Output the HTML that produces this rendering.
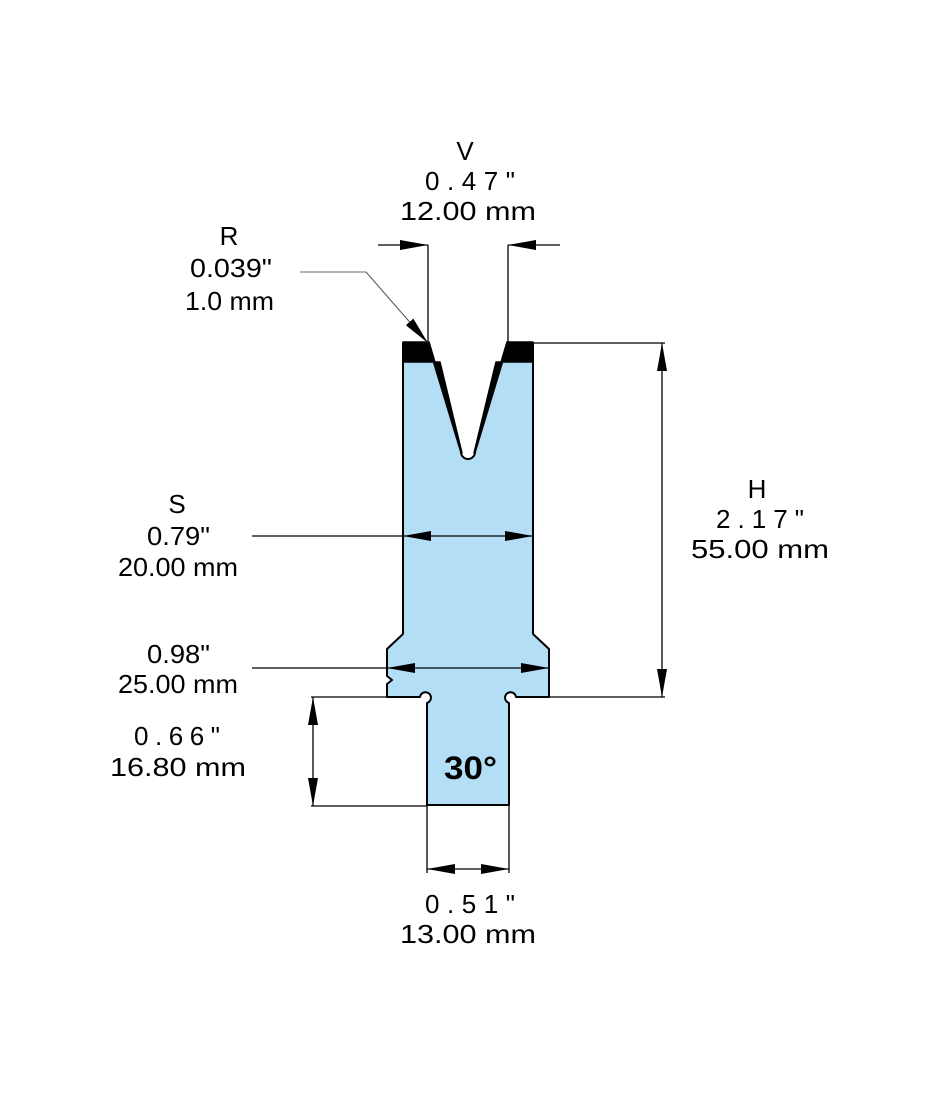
<!DOCTYPE html>
<html><head><meta charset="utf-8"><style>
html,body{margin:0;padding:0;background:#fff}
svg{display:block}
text{font-family:"Liberation Sans",sans-serif;font-size:26px;fill:#000}
</style></head><body>
<svg width="939" height="1099" viewBox="0 0 939 1099" xmlns="http://www.w3.org/2000/svg">
<defs>
<marker id="a" viewBox="0 0 28 10" refX="28" refY="5" markerWidth="28" markerHeight="10" markerUnits="userSpaceOnUse" orient="auto-start-reverse"><path d="M0,0 L28,5 L0,10 Z" fill="#000"/></marker>
</defs>
<!-- body -->
<path d="M403,343 L428,343 L461,452 A7,7 0 0 0 475,452 L508,343 L533,343 L533,634 L549,649 L549,697 L516,697 A5.5,5.5 0 1 0 509,703 L509,805 L427,805 L427,703 A5.5,5.5 0 1 0 420,697 L387,697 L387,684 L392,680 L387,676 L387,649 L403,634 Z" fill="#b3def5" stroke="#000" stroke-width="2" stroke-linejoin="round"/>
<!-- black caps & wedges -->
<polygon points="403,342 429,342 462,453 440,362 403,362" fill="#000" stroke="#000" stroke-width="1.5" stroke-linejoin="round"/>
<polygon points="533,342 507,342 474,453 496,362 533,362" fill="#000" stroke="#000" stroke-width="1.5" stroke-linejoin="round"/>
<!-- V dims -->
<line x1="428" y1="245" x2="428" y2="343" stroke="#000" stroke-width="1.3"/>
<line x1="508" y1="245" x2="508" y2="343" stroke="#000" stroke-width="1.3"/>
<line x1="378" y1="245" x2="428" y2="245" stroke="#000" stroke-width="1.3" marker-end="url(#a)"/>
<line x1="560" y1="245" x2="508" y2="245" stroke="#000" stroke-width="1.3" marker-end="url(#a)"/>
<!-- R leader -->
<polyline points="300,272 366,272" fill="none" stroke="#999" stroke-width="1.5"/>
<line x1="366" y1="272" x2="428" y2="343" stroke="#555" stroke-width="1" marker-end="url(#a)"/>
<!-- H -->
<line x1="533" y1="343" x2="665" y2="343" stroke="#000" stroke-width="1.3"/>
<line x1="549" y1="697" x2="665" y2="697" stroke="#000" stroke-width="1.3"/>
<line x1="662" y1="520" x2="662" y2="343" stroke="#000" stroke-width="1.3" marker-end="url(#a)"/>
<line x1="662" y1="520" x2="662" y2="697" stroke="#000" stroke-width="1.3" marker-end="url(#a)"/>
<!-- S -->
<line x1="252" y1="536" x2="403" y2="536" stroke="#000" stroke-width="1.3"/>
<line x1="468" y1="536" x2="403" y2="536" stroke="#000" stroke-width="1.3" marker-end="url(#a)"/>
<line x1="468" y1="536" x2="533" y2="536" stroke="#000" stroke-width="1.3" marker-end="url(#a)"/>
<!-- 0.98 -->
<line x1="252" y1="668" x2="387" y2="668" stroke="#000" stroke-width="1.3"/>
<line x1="468" y1="668" x2="387" y2="668" stroke="#000" stroke-width="1.3" marker-end="url(#a)"/>
<line x1="468" y1="668" x2="549" y2="668" stroke="#000" stroke-width="1.3" marker-end="url(#a)"/>
<!-- 0.66 -->
<line x1="311" y1="697" x2="387" y2="697" stroke="#000" stroke-width="1.3"/>
<line x1="311" y1="806" x2="427" y2="806" stroke="#000" stroke-width="1.3"/>
<line x1="313" y1="751" x2="313" y2="697" stroke="#000" stroke-width="1.3" marker-end="url(#a)"/>
<line x1="313" y1="751" x2="313" y2="806" stroke="#000" stroke-width="1.3" marker-end="url(#a)"/>
<!-- 0.51 -->
<line x1="427" y1="806" x2="427" y2="873" stroke="#000" stroke-width="1.3"/>
<line x1="509" y1="806" x2="509" y2="873" stroke="#000" stroke-width="1.3"/>
<line x1="468" y1="869" x2="427" y2="869" stroke="#000" stroke-width="1.3" marker-end="url(#a)"/>
<line x1="468" y1="869" x2="509" y2="869" stroke="#000" stroke-width="1.3" marker-end="url(#a)"/>
<!-- texts -->
<text x="465" y="160" text-anchor="middle">V</text>
<text x="425" y="190" textLength="90" lengthAdjust="spacing">0.47"</text>
<text x="400" y="220" textLength="136" lengthAdjust="spacingAndGlyphs">12.00 mm</text>
<text x="229" y="245" text-anchor="middle">R</text>
<text x="190" y="277" textLength="82" lengthAdjust="spacingAndGlyphs">0.039"</text>
<text x="185" y="310" textLength="89" lengthAdjust="spacingAndGlyphs">1.0 mm</text>
<text x="177" y="513" text-anchor="middle">S</text>
<text x="147" y="545" textLength="63" lengthAdjust="spacingAndGlyphs">0.79"</text>
<text x="118" y="576" textLength="120" lengthAdjust="spacingAndGlyphs">20.00 mm</text>
<text x="757" y="498" text-anchor="middle">H</text>
<text x="716" y="528" textLength="88" lengthAdjust="spacing">2.17"</text>
<text x="691" y="558" textLength="138" lengthAdjust="spacingAndGlyphs">55.00 mm</text>
<text x="147" y="663" textLength="63" lengthAdjust="spacingAndGlyphs">0.98"</text>
<text x="118" y="693" textLength="120" lengthAdjust="spacingAndGlyphs">25.00 mm</text>
<text x="134" y="745" textLength="86" lengthAdjust="spacing">0.66"</text>
<text x="110" y="776" textLength="136" lengthAdjust="spacingAndGlyphs">16.80 mm</text>
<text x="425" y="913" textLength="90" lengthAdjust="spacing">0.51"</text>
<text x="400" y="943" textLength="136" lengthAdjust="spacingAndGlyphs">13.00 mm</text>
<text x="444" y="779" style="font-weight:bold;font-size:32px" textLength="53" lengthAdjust="spacingAndGlyphs">30°</text>
</svg>
</body></html>
